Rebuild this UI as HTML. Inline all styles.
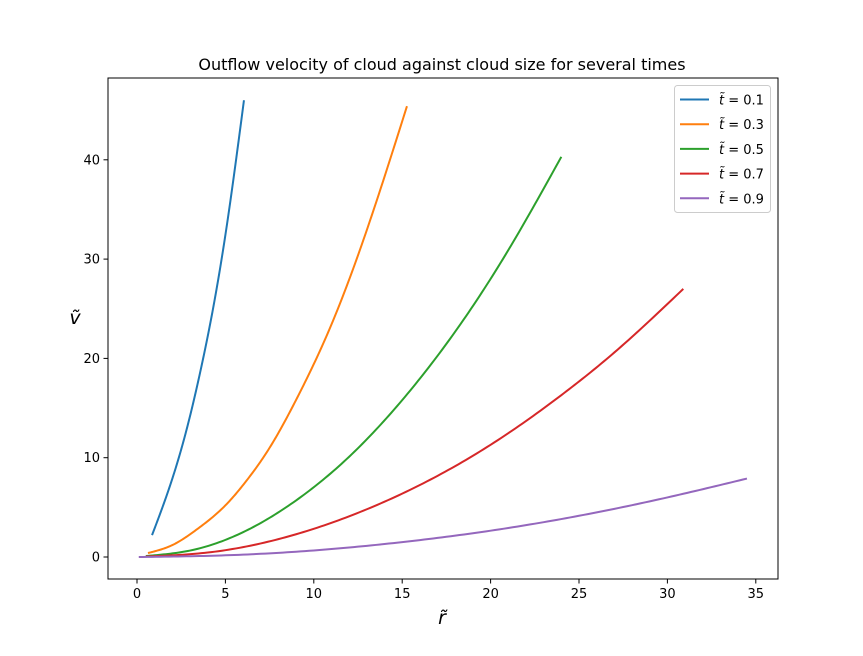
<!DOCTYPE html>
<html><head><meta charset="utf-8"><style>
body{margin:0;background:#fff;font-family:"Liberation Sans","DejaVu Sans",sans-serif}
svg text{font-family:"DejaVu Sans","Liberation Sans",sans-serif}
</style></head><body>
<svg id="chart" width="863" height="651" viewBox="0 0 863 651">
<rect x="0" y="0" width="863" height="651" fill="#fff"/>
<text x="442" y="70" text-anchor="middle" font-size="16">Outflow velocity of cloud against cloud size for several times</text>
<g id="plot"></g>
<rect x="108" y="78" width="670" height="501" fill="none" stroke="#000" stroke-width="1"/>
<g id="xt"></g><g id="yt"></g>
<text x="442" y="624" text-anchor="middle" font-size="19" font-style="italic">r̃</text>
<text x="75" y="324" text-anchor="middle" font-size="19" font-style="italic">ṽ</text>
<g id="legend">
<rect x="674.5" y="85.5" width="96" height="127" rx="3" fill="#fff" fill-opacity="0.8" stroke="#ccc"/>
</g>
</svg>
<script>
const xTicks=[0,5,10,15,20,25,30,35];
const yTicks=[0,10,20,30,40];
const seriesValues=["0.1","0.3","0.5","0.7","0.9"];
const seriesColors=["#1f77b4","#ff7f0e","#2ca02c","#d62728","#9467bd"];
const r1=[0.85,1.5,2.43,3,3.56,4.3,5.09,6.05];
const v1=[2.2,5.3,10.4,14.2,18.5,25,33.5,46];
const r2=[0.62,2,3.4,5,6.2,7.5,9.05,10.9,12.8,15.27];
const v2=[0.4,1.2,2.8,5.2,7.7,11.0,16.0,23.0,31.9,45.4];
const r3=[0.5,3,6,9,12,15,18,21,24];
const v3=[0.1,0.65,2.5,5.7,10.1,15.8,22.7,30.9,40.3];
const r4=[0.5,4,8,12,16,20,24,27,30.9];
const v4=[0.05,0.45,1.8,4.1,7.25,11.3,16.3,20.6,27];
const r5=[0.1,5,10,15,20,25,30,34.5];
const v5=[0,0.17,0.66,1.5,2.65,4.15,6.0,7.9];
const seriesR=[r1,r2,r3,r4,r5], seriesV=[v1,v2,v3,v4,v5];
const NS="http://www.w3.org/2000/svg";
const xs=v=>137+v*17.68, ys=v=>557-v*9.93;
function mk(t,a,p){const e=document.createElementNS(NS,t);for(const k in a)e.setAttribute(k,a[k]);p.appendChild(e);return e;}
const xt=document.getElementById('xt'),yt=document.getElementById('yt');
xTicks.forEach(t=>{const x=xs(t);
 const l=mk('line',{x1:x,x2:x,y1:579,y2:583.5,stroke:'#000'},xt);
 
 
 const tx=mk('text',{x:x,y:598,'text-anchor':'middle','font-size':13},xt);tx.textContent=t;
 
 });
yTicks.forEach(t=>{const y=ys(t);
 const l=mk('line',{x1:103.5,x2:108,y1:y,y2:y,stroke:'#000'},yt);
 
 
 const tx=mk('text',{x:100,y:y+4.5,'text-anchor':'end','font-size':13},yt);tx.textContent=t;
 
 });
function path(R,V){const n=R.length,h=[],M=new Array(n).fill(0);
 for(let i=0;i<n-1;i++)h.push(R[i+1]-R[i]);
 const A=[],B=[],C=[],D=[];
 for(let i=1;i<n-1;i++){A.push(h[i-1]);B.push(2*(h[i-1]+h[i]));C.push(h[i]);
  D.push(6*((V[i+1]-V[i])/h[i]-(V[i]-V[i-1])/h[i-1]));}
 const m=B.length;
 for(let i=1;i<m;i++){const w=A[i]/B[i-1];B[i]-=w*C[i-1];D[i]-=w*D[i-1];}
 if(m>0){M[m]=D[m-1]/B[m-1];for(let i=m-2;i>=0;i--)M[i+1]=(D[i]-C[i]*M[i+2])/B[i];}
 let p='';
 for(let i=0;i<n-1;i++){for(let k=0;k<=20;k++){if(i>0&&k===0)continue;
  const t=k/20,x=R[i]+t*h[i],A1=1-t,B1=t;
  const y=A1*V[i]+B1*V[i+1]+((A1*A1*A1-A1)*M[i]+(B1*B1*B1-B1)*M[i+1])*h[i]*h[i]/6;
  p+=(p?'L':'M')+xs(x).toFixed(2)+','+ys(y).toFixed(2);}}
 return p;}
const plot=document.getElementById('plot'),lg=document.getElementById('legend');
seriesR.forEach((R,i)=>{
 const p=mk('path',{d:path(R,seriesV[i]),fill:'none',stroke:seriesColors[i],'stroke-width':2,'stroke-linejoin':'round'},plot);
 
 
 const y=99.5+i*24.7;
 const l=mk('line',{x1:680,x2:709,y1:y,y2:y,stroke:seriesColors[i],'stroke-width':2},lg);
 
 
 const t=mk('text',{x:719,y:y+5,'font-size':13},lg);
 t.innerHTML='<tspan font-style="italic">t̃</tspan> = '+seriesValues[i];
 
 
});
</script>
</body></html>
